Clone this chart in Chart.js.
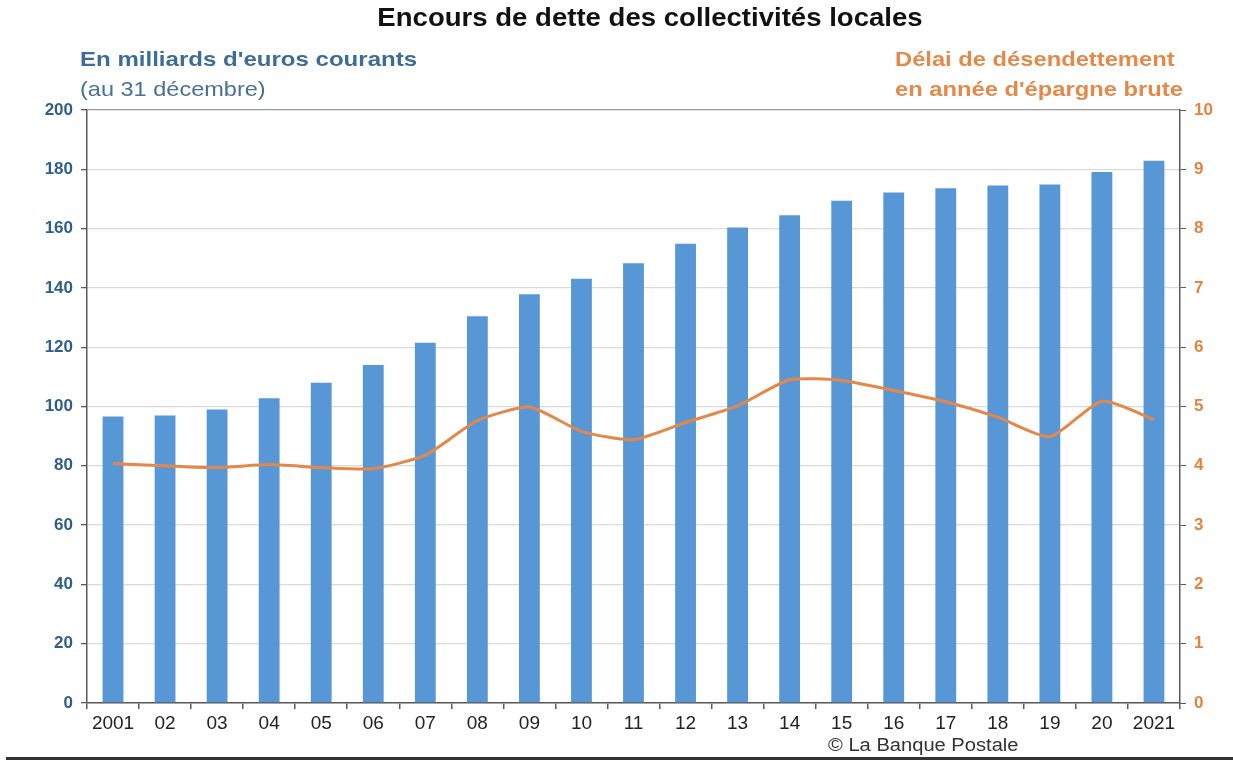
<!DOCTYPE html>
<html>
<head>
<meta charset="utf-8">
<script src="https://cdn.jsdelivr.net/npm/chart.js@4.4.0/dist/chart.umd.min.js"></script>
<style>
  html, body { margin:0; padding:0; background:#fff; }
  #wrap { position:relative; width:1233px; height:762px; overflow:hidden; font-family:'Liberation Sans', Arial, sans-serif; }
  canvas { position:absolute; left:0; top:0; }
  .t { position:absolute; white-space:nowrap; transform-origin:left center; }
  #title { left:0; width:1300px; text-align:center; top:2px; font-size:26px; font-weight:bold; color:#111; transform:scaleX(1.06); transform-origin:center center; }
  #l1 { left:80px; top:47px; font-size:21px; font-weight:bold; color:#3D6C98; transform:scaleX(1.145); }
  #l2 { left:80px; top:77px; font-size:21px; color:#4A7097; transform:scaleX(1.12); }
  #r1 { left:895px; top:47px; font-size:21px; font-weight:bold; color:#E3894A; transform:scaleX(1.13); }
  #r2 { left:895px; top:77px; font-size:21px; font-weight:bold; color:#E3894A; transform:scaleX(1.13); }
  #copy { left:828px; top:735px; font-size:17.5px; color:#333; transform:scaleX(1.15); }
  #rule { position:absolute; left:6px; right:0; top:757px; height:3px; background:#333; }
</style>
</head>
<body>
<div id="wrap">
  <canvas id="c" width="1233" height="762"></canvas>
  <div class="t" id="title">Encours de dette des collectivités locales</div>
  <div class="t" id="l1">En milliards d'euros courants</div>
  <div class="t" id="l2">(au 31 décembre)</div>
  <div class="t" id="r1">Délai de désendettement</div>
  <div class="t" id="r2">en année d'épargne brute</div>
  <div class="t" id="copy">© La Banque Postale</div>
  <div id="rule"></div>
</div>
<script>
const categories = ['2001','02','03','04','05','06','07','08','09','10','11','12','13','14','15','16','17','18','19','20','2021'];
const encoursDette = [96.6, 97.0, 99.0, 102.8, 108.0, 114.0, 121.5, 130.4, 137.9, 143.1, 148.3, 154.9, 160.4, 164.5, 169.4, 172.2, 173.6, 174.5, 174.9, 179.1, 182.9];
const delaiDesendettement = [4.04, 4.00, 3.97, 4.02, 3.97, 3.95, 4.18, 4.76, 4.99, 4.58, 4.44, 4.73, 5.01, 5.45, 5.44, 5.27, 5.08, 4.82, 4.49, 5.09, 4.78];
const leftTicks = [0, 20, 40, 60, 80, 100, 120, 140, 160, 180, 200];
const rightTicks = [0, 1, 2, 3, 4, 5, 6, 7, 8, 9, 10];

const FONT = "'Liberation Sans', Arial, sans-serif";
const axisGray = '#5a5a5a';

new Chart(document.getElementById('c'), {
  data: {
    labels: categories,
    datasets: [
      {
        type: 'line',
        data: delaiDesendettement,
        yAxisID: 'y1',
        borderColor: '#E6874A',
        borderWidth: 3,
        tension: 0.2,
        pointRadius: 0,
        fill: false,
        order: 0
      },
      {
        type: 'bar',
        data: encoursDette,
        yAxisID: 'y',
        backgroundColor: '#5797D5',
        barPercentage: 0.8,
        categoryPercentage: 0.5,
        order: 1
      }
    ]
  },
  options: {
    responsive: false,
    animation: false,
    layout: { padding: { top: 110, left: 0, right: 0, bottom: 0 } },
    plugins: { legend: { display: false }, tooltip: { enabled: false }, title: { display: false } },
    scales: {
      x: {
        offset: true,
        grid: { display: true, drawOnChartArea: false, drawTicks: true, tickLength: 6, offset: true, color: axisGray, lineWidth: 1.5 },
        border: { display: true, color: axisGray, width: 1.5 },
        ticks: { color: '#222', font: { family: FONT, size: 19 }, padding: 3, maxRotation: 0, autoSkip: false },
        afterFit: s => { s.height = 59; }
      },
      y: {
        position: 'left',
        min: 0, max: 200,
        afterBuildTicks: s => { s.ticks = leftTicks.map(v => ({ value: v })); },
        grid: {
          color: ctx => (ctx.tick && ctx.tick.value === 200) ? '#9a9a9a' : '#d9d9d9',
          lineWidth: 1.3,
          tickColor: axisGray,
          tickLength: 6
        },
        border: { display: true, color: axisGray, width: 1.5 },
        ticks: { color: '#2F5E8C', font: { family: FONT, size: 17, weight: 'bold' }, padding: 8 },
        afterFit: s => { s.width = 87; }
      },
      y1: {
        position: 'right',
        min: 0, max: 10,
        afterBuildTicks: s => { s.ticks = rightTicks.map(v => ({ value: v })); },
        grid: { drawOnChartArea: false, tickColor: axisGray, tickLength: 6 },
        border: { display: true, color: axisGray, width: 1.5 },
        ticks: { color: '#E3843E', font: { family: FONT, size: 17, weight: 'bold' }, padding: 8 },
        afterFit: s => { s.width = 53; }
      }
    }
  }
});
</script>
</body>
</html>
